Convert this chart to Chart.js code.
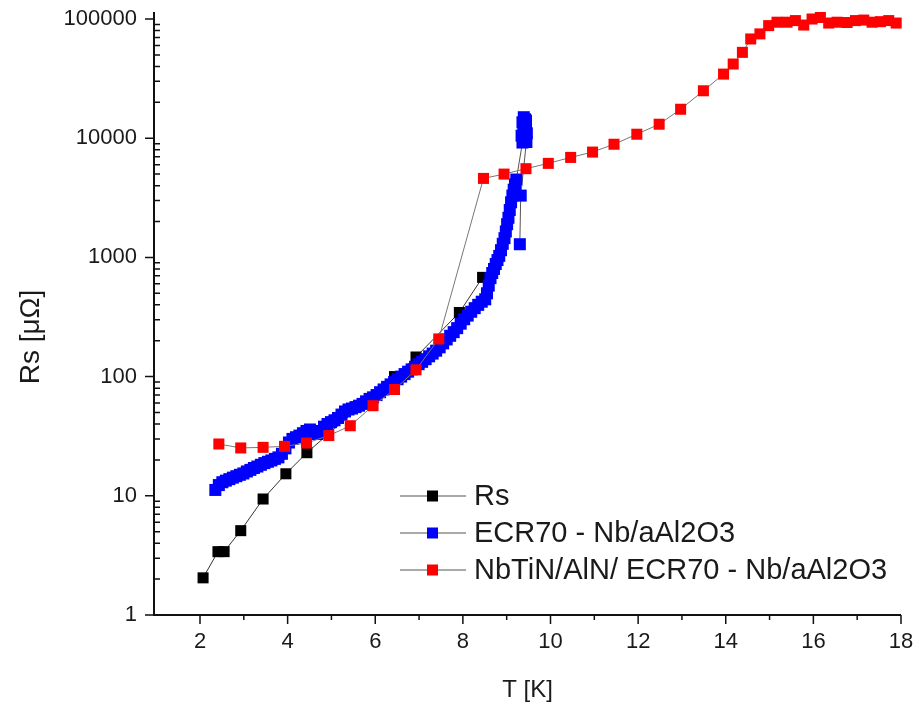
<!DOCTYPE html>
<html>
<head>
<meta charset="utf-8">
<title>Rs vs T</title>
<script src="https://cdn.jsdelivr.net/npm/chart.js@4.4.1/dist/chart.umd.min.js"></script>
<style>
  html, body { margin: 0; padding: 0; background: #ffffff; }
  canvas { display: block; }
</style>
</head>
<body>
<canvas id="rsChart" width="918" height="709"></canvas>
<script>
// Rs (black)
const rsTemp = [2.07, 2.41, 2.55, 2.93, 3.44, 3.96, 4.44, 6.44, 6.93, 7.92, 8.45];
const rsValues = [2.05, 3.4, 3.4, 5.1, 9.4, 15.3, 23, 100, 146, 345, 680];

// ECR70 - Nb/aAl2O3 (blue)
const ecrTemp = [2.35, 2.43, 2.51, 2.59, 2.67, 2.75, 2.83, 2.91, 2.99, 3.07, 3.15, 3.23, 3.31, 3.39, 3.47,
  3.55, 3.63, 3.71, 3.79, 3.87, 3.95, 4.03, 4.11, 4.19, 4.27, 4.35, 4.43, 4.51, 4.59, 4.67, 4.75, 4.83,
  4.91, 4.99, 5.07, 5.15, 5.23, 5.31, 5.39, 5.47, 5.55, 5.63, 5.71, 5.79, 5.87, 5.95, 6.03, 6.11, 6.19,
  6.27, 6.35, 6.43, 6.51, 6.59, 6.67, 6.75, 6.83, 6.91, 6.99, 7.07, 7.15, 7.23, 7.31, 7.39, 7.47, 7.55,
  7.63, 7.71, 7.79, 7.87, 7.95, 8.03, 8.11, 8.19, 8.27, 8.35, 8.43, 8.51, 8.55, 8.59, 8.63, 8.67, 8.71,
  8.75, 8.79, 8.83, 8.87, 8.91, 8.95, 8.98, 9.01, 9.04, 9.07, 9.1, 9.13, 9.16, 9.19, 9.22,
  9.36, 9.42, 9.34, 9.46, 9.38, 9.44, 9.36, 9.42, 9.39, 9.44, 9.40, 9.45,
  9.32, 9.3];
const ecrValues = [11.2, 12.3, 13.0, 13.4, 13.8, 14.2, 14.6, 15.0, 15.4, 16.0, 16.5, 17.1, 17.6, 18.2, 18.8,
  19.3, 19.8, 20.4, 21.0, 22.5, 25, 28, 30, 31, 32, 33.5, 35, 36, 34, 33, 35, 38,
  40, 41.5, 43, 45, 48, 51, 53, 54, 55.5, 57, 59, 62, 65, 67, 70, 74, 78,
  82, 86, 90, 95, 100, 105, 110, 115, 121, 127, 133, 140, 148, 156, 165, 176, 190,
  205, 220, 236, 255, 278, 303, 325, 350, 375, 400, 425, 445, 500, 580, 670, 740, 800,
  880, 950, 1030, 1150, 1300, 1450, 1650, 1900, 2150, 2500, 2900, 3300, 3700, 4100, 4500,
  9200, 9800, 10500, 11000, 12000, 12800, 13600, 14400, 15000, 14000, 11500, 9300,
  3300, 1290];

// NbTiN/AlN/ ECR70 - Nb/aAl2O3 (red)
const nbtinTemp = [2.43, 2.93, 3.44, 3.93, 4.43, 4.94, 5.43, 5.95, 6.44, 6.93, 7.45, 8.47, 8.94, 9.44,
  9.95, 10.46, 10.96, 11.45, 11.97, 12.48, 12.97, 13.49, 13.95, 14.17, 14.38, 14.57, 14.78, 14.98,
  15.17, 15.40, 15.59, 15.78, 15.97, 16.16, 16.35, 16.54, 16.77, 16.96, 17.15, 17.34, 17.53, 17.72, 17.89];
const nbtinValues = [27.2, 25.2, 25.5, 26, 27.7, 32, 38.7, 57, 78, 114, 207, 4600, 5000, 5550,
  6150, 6900, 7650, 8900, 10800, 13100, 17500, 25000, 34500, 41900, 52500, 68000, 75000, 88000,
  94000, 94000, 97000, 89000, 100000, 103000, 92500, 94000, 93500, 97000, 98000, 94000, 95000, 97000, 92500];

const xMajorTicks = [2, 4, 6, 8, 10, 12, 14, 16, 18];
const xMinorTicks = [3, 5, 7, 9, 11, 13, 15, 17];
const yMajorTicks = [1, 10, 100, 1000, 10000, 100000];
const yTickLabels = ['1', '10', '100', '1000', '10000', '100000'];

const seriesNames = ['Rs', 'ECR70 - Nb/aAl2O3', 'NbTiN/AlN/ ECR70 - Nb/aAl2O3'];
const seriesColors = ['#000000', '#0000ff', '#ff0000'];

const FONT = '"Liberation Sans", Arial, Helvetica, sans-serif';

function toPoints(xs, ys) {
  return xs.map((x, i) => ({ x: x, y: ys[i] }));
}

function series(idx, xs, ys, lineColor, order, radius) {
  return {
    label: seriesNames[idx],
    data: toPoints(xs, ys),
    borderColor: lineColor,
    borderWidth: 1,
    backgroundColor: seriesColors[idx],
    pointStyle: 'rect',
    pointRadius: radius,
    pointBorderWidth: 0,
    pointBackgroundColor: seriesColors[idx],
    tension: 0,
    clip: false,
    order: order
  };
}

// axes, ticks, titles and legend are drawn by hand to look like the Origin plot
const originLook = {
  id: 'originLook',
  beforeDatasetsDraw(chart) {
    const ctx = chart.ctx;
    const area = chart.chartArea;
    const xs = chart.scales.x;
    const ys = chart.scales.y;
    ctx.save();
    ctx.strokeStyle = '#111';
    ctx.lineWidth = 2;
    ctx.beginPath();
    ctx.moveTo(area.left, area.top);
    ctx.lineTo(area.left, area.bottom);
    ctx.lineTo(area.right, area.bottom);
    ctx.stroke();

    ctx.lineWidth = 1.5;
    ctx.beginPath();
    xMajorTicks.forEach(t => {
      const px = xs.getPixelForValue(t);
      ctx.moveTo(px, area.bottom);
      ctx.lineTo(px, area.bottom + 9);
    });
    xMinorTicks.forEach(t => {
      const px = xs.getPixelForValue(t);
      ctx.moveTo(px, area.bottom);
      ctx.lineTo(px, area.bottom + 5);
    });
    yMajorTicks.forEach(v => {
      const py = ys.getPixelForValue(v);
      ctx.moveTo(area.left - 9, py);
      ctx.lineTo(area.left, py);
    });
    yMajorTicks.slice(0, -1).forEach(v => {
      for (let k = 2; k <= 9; k++) {
        const py = ys.getPixelForValue(v * k);
        ctx.moveTo(area.left, py);
        ctx.lineTo(area.left + 6, py);
      }
    });
    ctx.stroke();

    ctx.fillStyle = '#1a1a1a';
    ctx.font = '22px ' + FONT;
    ctx.textAlign = 'center';
    ctx.textBaseline = 'middle';
    xMajorTicks.forEach(t => {
      ctx.fillText(String(t), xs.getPixelForValue(t), area.bottom + 27);
    });
    ctx.textAlign = 'right';
    yMajorTicks.forEach((v, i) => {
      ctx.fillText(yTickLabels[i], area.left - 17, ys.getPixelForValue(v));
    });

    ctx.font = '24px ' + FONT;
    ctx.textAlign = 'center';
    ctx.fillText('T [K]', (area.left + area.right) / 2, 690);

    ctx.save();
    ctx.translate(31, 337);
    ctx.rotate(-Math.PI / 2);
    ctx.font = '28px ' + FONT;
    ctx.fillText('Rs [\u03bc\u03a9]', 0, 0);
    ctx.restore();
    ctx.restore();
  },
  afterDraw(chart) {
    const ctx = chart.ctx;
    ctx.save();
    const rows = [496, 533, 570];
    ctx.font = '29px ' + FONT;
    ctx.textAlign = 'left';
    ctx.textBaseline = 'middle';
    seriesNames.forEach((name, i) => {
      const y = rows[i];
      ctx.strokeStyle = '#555';
      ctx.lineWidth = 1;
      ctx.beginPath();
      ctx.moveTo(400, y);
      ctx.lineTo(466, y);
      ctx.stroke();
      ctx.fillStyle = seriesColors[i];
      ctx.fillRect(427, y - 5.5, 11, 11);
      ctx.fillStyle = '#1a1a1a';
      ctx.fillText(name, 474, y + 1);
    });
    ctx.restore();
  }
};

const chart = new Chart(document.getElementById('rsChart').getContext('2d'), {
  type: 'line',
  data: {
    datasets: [
      series(2, nbtinTemp, nbtinValues, '#777777', 0, 7.8),
      series(1, ecrTemp, ecrValues, '#555555', 1, 8.5),
      series(0, rsTemp, rsValues, '#333333', 2, 7.8)
    ]
  },
  options: {
    responsive: false,
    animation: false,
    layout: { padding: { left: 154, right: 17, top: 12, bottom: 94 } },
    scales: {
      x: { type: 'linear', min: 0.95, max: 18, display: false },
      y: { type: 'logarithmic', min: 1, max: 114500, display: false }
    },
    plugins: {
      legend: { display: false },
      tooltip: { enabled: false }
    }
  },
  plugins: [originLook]
});
</script>
</body>
</html>
